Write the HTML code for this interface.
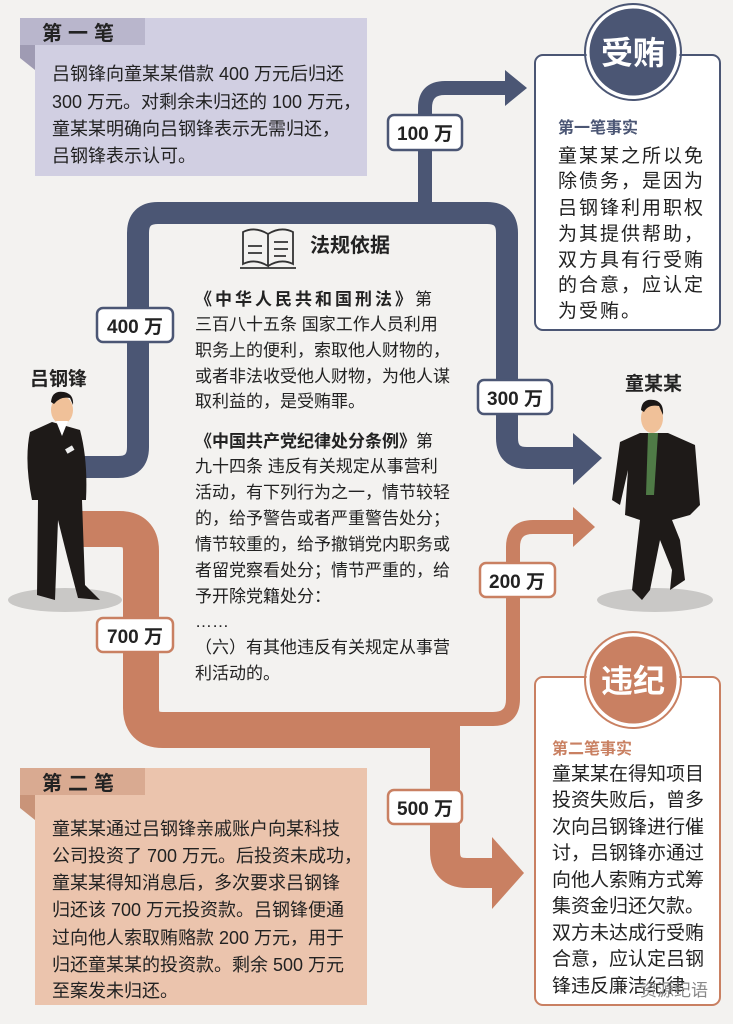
<!DOCTYPE html>
<html><head><meta charset="utf-8"><style>
html,body{margin:0;padding:0;background:#f3f2f0;}
svg{display:block;}
text{font-family:"Liberation Sans","Noto Sans CJK SC",sans-serif;}
</style></head><body>
<svg width="733" height="1024" viewBox="0 0 733 1024" xmlns="http://www.w3.org/2000/svg">
<rect width="733" height="1024" fill="#f3f2f0"/>
<!-- box1 -->
<rect x="35" y="18" width="332" height="158" fill="#d1cfe2"/>
<polygon points="20,22 20,58 35,70 35,22" fill="#9f9bb3"/>
<rect x="20" y="18" width="125" height="27" fill="#b9b6cc"/>
<text x="42" y="40" font-size="20" font-weight="bold" fill="#222" letter-spacing="6">第一笔</text>
<g font-size="18" fill="#222">
<text x="52" y="80">吕钢锋向童某某借款 400 万元后归还</text>
<text x="52" y="108">300 万元。对剩余未归还的 100 万元，</text>
<text x="52" y="135">童某某明确向吕钢锋表示无需归还，</text>
<text x="52" y="162">吕钢锋表示认可。</text>
</g>
<!-- box2 -->
<rect x="35" y="768" width="332" height="237" fill="#ebc4ad"/>
<polygon points="20,772 20,808 35,820 35,772" fill="#c99479"/>
<rect x="20" y="768" width="125" height="27" fill="#d9aa91"/>
<text x="42" y="790" font-size="20" font-weight="bold" fill="#222" letter-spacing="6">第二笔</text>
<g font-size="18" fill="#222">
<text x="52" y="835">童某某通过吕钢锋亲戚账户向某科技</text>
<text x="52" y="862">公司投资了 700 万元。后投资未成功，</text>
<text x="52" y="889">童某某得知消息后，多次要求吕钢锋</text>
<text x="52" y="916">归还该 700 万元投资款。吕钢锋便通</text>
<text x="52" y="944">过向他人索取贿赂款 200 万元，用于</text>
<text x="52" y="971">归还童某某的投资款。剩余 500 万元</text>
<text x="52" y="997">至案发未归还。</text>
</g>
<!-- right boxes -->
<rect x="535" y="55" width="185" height="275" rx="8" fill="#fff" stroke="#4b5674" stroke-width="2"/>
<circle cx="633" cy="52" r="45" fill="#4b5674" stroke="#fff" stroke-width="3"/>
<circle cx="633" cy="52" r="48" fill="none" stroke="#4b5674" stroke-width="2"/>
<text x="633" y="64" font-size="32" font-weight="bold" fill="#fff" text-anchor="middle">受贿</text>
<text x="558" y="133" font-size="16" font-weight="bold" fill="#4b5674">第一笔事实</text>
<g font-size="19" fill="#222" letter-spacing="2">
<text x="558" y="162">童某某之所以免</text>
<text x="558" y="187">除债务，是因为</text>
<text x="558" y="214">吕钢锋利用职权</text>
<text x="558" y="240">为其提供帮助，</text>
<text x="558" y="266">双方具有行受贿</text>
<text x="558" y="291">的合意，应认定</text>
<text x="558" y="317">为受贿。</text>
</g>
<rect x="535" y="677" width="185" height="328" rx="8" fill="#fff" stroke="#c98062" stroke-width="2"/>
<circle cx="633" cy="680" r="45" fill="#c98062" stroke="#fff" stroke-width="3"/>
<circle cx="633" cy="680" r="48" fill="none" stroke="#c98062" stroke-width="2"/>
<text x="633" y="692" font-size="32" font-weight="bold" fill="#fff" text-anchor="middle">违纪</text>
<text x="552" y="754" font-size="16" font-weight="bold" fill="#c98062">第二笔事实</text>
<g font-size="19" fill="#222">
<text x="552" y="780">童某某在得知项目</text>
<text x="552" y="806">投资失败后，曾多</text>
<text x="552" y="833">次向吕钢锋进行催</text>
<text x="552" y="859">讨，吕钢锋亦通过</text>
<text x="552" y="886">向他人索贿方式筹</text>
<text x="552" y="912">集资金归还欠款。</text>
<text x="552" y="939">双方未达成行受贿</text>
<text x="552" y="965">合意，应认定吕钢</text>
<text x="552" y="992">锋违反廉洁纪律</text>
</g>
<text x="640" y="996" font-size="17" fill="#888">资源纪语</text>
<!-- blue paths -->
<g fill="none" stroke="#4b5674">
<path d="M80 467 H118 Q138 467 138 447 V233 Q138 213 158 213 H487 Q507 213 507 233 V438 Q507 458 527 458 H578" stroke-width="22"/>
<path d="M425 213 V108 Q425 88 445 88 H510" stroke-width="14"/>
</g>
<polygon points="573,433 602,458 573,485" fill="#4b5674"/>
<polygon points="505,70 527,88 505,106" fill="#4b5674"/>
<!-- orange paths -->
<g fill="none" stroke="#c98062">
<path d="M440 719 H493 Q513 719 513 699 V547 Q513 527 533 527 H578" stroke-width="14"/>
<path d="M80 529 H119 Q141 529 141 551 V708 Q141 730 163 730 H445" stroke-width="36"/>
<path d="M445 715 V851 Q445 873 467 873 H498" stroke-width="30"/>
</g>
<polygon points="573,507 595,527 573,547" fill="#c98062"/>
<polygon points="492,837 524,873 492,909" fill="#c98062"/>
<!-- labels -->
<g font-size="19" font-weight="bold" fill="#222" text-anchor="middle">
<rect x="388" y="115" width="74" height="35" rx="6" fill="#fff" stroke="#4b5674" stroke-width="2.5"/>
<text x="425" y="140">100 万</text>
<rect x="97" y="308" width="76" height="34" rx="6" fill="#fff" stroke="#4b5674" stroke-width="2.5"/>
<text x="135" y="333">400 万</text>
<rect x="478" y="380" width="74" height="34" rx="6" fill="#fff" stroke="#4b5674" stroke-width="2.5"/>
<text x="515" y="405">300 万</text>
<rect x="480" y="563" width="75" height="34" rx="6" fill="#fff" stroke="#c98062" stroke-width="2.5"/>
<text x="517" y="588">200 万</text>
<rect x="97" y="618" width="76" height="34" rx="6" fill="#fff" stroke="#c98062" stroke-width="2.5"/>
<text x="135" y="643">700 万</text>
<rect x="388" y="790" width="74" height="34" rx="6" fill="#fff" stroke="#c98062" stroke-width="2.5"/>
<text x="425" y="815">500 万</text>
</g>
<!-- law text -->
<g stroke="#333" stroke-width="1.8" fill="none">
<path d="M243 232 Q255 226 268 234 V266 Q255 258 243 264 Z"/>
<path d="M268 234 Q281 226 293 232 V264 Q281 258 268 266"/>
<path d="M240 268 H296"/>
<path d="M274 242 H288 M274 249 H288 M274 256 H286 M248 246 H262 M248 253 H262"/>
</g>
<text x="310" y="252" font-size="20" font-weight="bold" fill="#222">法规依据</text>
<g font-size="17" fill="#222">
<text x="195" y="305" font-weight="bold" letter-spacing="3">《中华人民共和国刑法》<tspan font-weight="normal" letter-spacing="0">第</tspan></text>
<text x="195" y="330">三百八十五条 国家工作人员利用</text>
<text x="195" y="356">职务上的便利，索取他人财物的，</text>
<text x="195" y="382">或者非法收受他人财物，为他人谋</text>
<text x="195" y="407">取利益的，是受贿罪。</text>
<text x="195" y="447" font-weight="bold">《中国共产党纪律处分条例》<tspan font-weight="normal">第</tspan></text>
<text x="195" y="472">九十四条 违反有关规定从事营利</text>
<text x="195" y="498">活动，有下列行为之一，情节较轻</text>
<text x="195" y="524">的，给予警告或者严重警告处分；</text>
<text x="195" y="550">情节较重的，给予撤销党内职务或</text>
<text x="195" y="576">者留党察看处分；情节严重的，给</text>
<text x="195" y="602">予开除党籍处分：</text>
<text x="195" y="627">……</text>
<text x="195" y="653">（六）有其他违反有关规定从事营</text>
<text x="195" y="679">利活动的。</text>
</g>
<!-- people -->
<text x="30" y="385" font-size="19" font-weight="bold" fill="#222">吕钢锋</text>
<text x="625" y="390" font-size="19" font-weight="bold" fill="#222">童某某</text>
<ellipse cx="65" cy="600" rx="57" ry="12" fill="#c9c8c6"/>
<ellipse cx="655" cy="600" rx="58" ry="12" fill="#c9c8c6"/>
<!-- left person -->
<ellipse cx="62" cy="410" rx="11" ry="14" fill="#f0c199"/>
<path d="M51 402 Q52 390 64 392 Q74 394 73 405 L70 398 Q60 396 54 404 Z" fill="#1b1716"/>
<path d="M52 422 L30 432 Q24 460 32 500 L38 500 L37 595 L55 600 L58 520 L68 560 L78 598 L100 600 L85 585 L82 500 L86 500 Q88 460 80 430 Z" fill="#1e1a18"/>
<path d="M56 421 L62 436 L68 421 Z" fill="#fff"/>
<rect x="66" y="447" width="8" height="5" fill="#eee" transform="rotate(-30 70 450)"/>
<!-- right person -->
<ellipse cx="652" cy="418" rx="11" ry="15" fill="#f0c199"/>
<path d="M641 410 Q642 398 654 400 Q664 402 663 415 L659 406 Q648 404 644 412 Z" fill="#1b1716"/>
<path d="M640 433 L620 442 L612 500 L620 505 L628 470 L625 515 L640 520 L632 590 L642 600 L650 590 L660 540 L672 570 L670 590 L685 580 L680 540 L672 520 L690 515 L700 505 L695 445 L668 433 Z" fill="#1e1a18"/>
<path d="M648 433 L658 433 L654 495 L646 495 Z" fill="#4f7a46"/>
</svg>
</body></html>
